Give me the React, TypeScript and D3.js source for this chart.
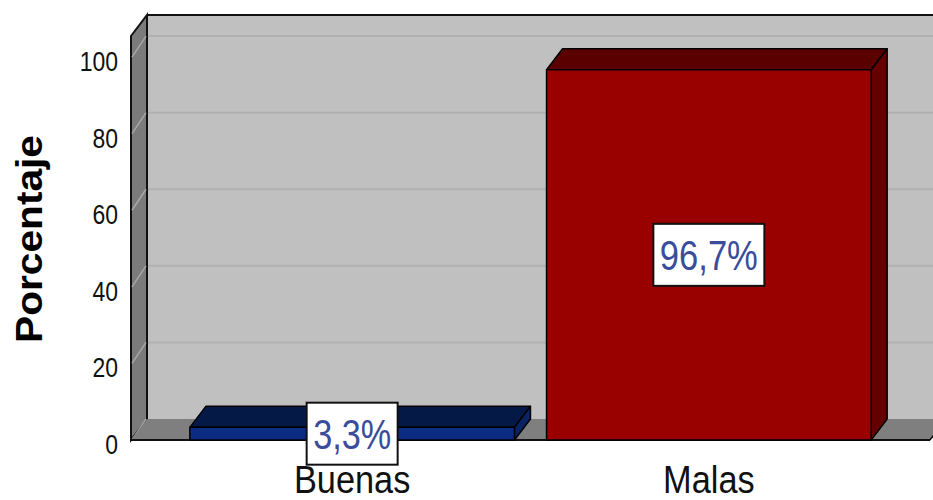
import * as d3 from "d3";

const categories = ["Buenas", "Malas"];
const percentages = [3.3, 96.7];
const valueLabels = ["3,3%", "96,7%"];
const yTicks = [0, 20, 40, 60, 80, 100];

const barColors = [
  { front: "#0c2c84", top: "#051947", side: "#0a2363" },
  { front: "#990000", top: "#5a0000", side: "#640000" },
];

export default function App() {
  const width = 933;
  const height = 500;
  const dx = 16; // depth offset
  const dy = 21;
  const left = 131;
  const right = 930;
  const floorY = 440;

  const y = d3.scaleLinear().domain([0, 105.5]).range([floorY, 36]);
  const x = d3
    .scaleBand<string>()
    .domain(categories)
    .range([left, right])
    .paddingInner(0.09)
    .paddingOuter(0.165);

  const topY = y(105.5);
  const pts = (p: [number, number][]) => p.map((d) => d.join(",")).join(" ");

  return (
    <svg
      width={width}
      height={height}
      style={{ position: "absolute", left: 0, top: 0, display: "block", background: "#fff" }}
      fontFamily="'Liberation Sans', Arial, sans-serif"
    >
      {/* back wall */}
      <rect x={left + dx} y={topY - dy} width={width - left - dx + 5} height={floorY - topY} fill="#c0c0c0" />
      {yTicks.slice(1).map((t) => (
        <line key={"g" + t} x1={left + dx} x2={width} y1={y(t) - dy} y2={y(t) - dy} stroke="#b0b0b0" strokeWidth={2} />
      ))}
      <line x1={left + dx} x2={width} y1={topY - dy} y2={topY - dy} stroke="#111" strokeWidth={2} />

      {/* side wall */}
      <polygon
        points={pts([[left, floorY], [left, topY], [left + dx, topY - dy], [left + dx, floorY - dy]])}
        fill="#7b7b7b"
        stroke="#111"
        strokeWidth={2}
      />
      {yTicks.map((t) => (
        <line key={"s" + t} x1={left + 1} y1={y(t)} x2={left + dx - 1} y2={y(t) - dy} stroke="#a8a8a8" strokeWidth={1.5} />
      ))}

      {/* floor */}
      <polygon
        points={pts([[left, floorY], [right, floorY], [right + dx, floorY - dy], [left + dx, floorY - dy]])}
        fill="#7f7f7f"
      />
      <line x1={left} x2={right} y1={floorY} y2={floorY} stroke="#111" strokeWidth={2} />
      <line x1={right} y1={floorY} x2={right + dx} y2={floorY - dy} stroke="#111" strokeWidth={1.5} />

      {/* bars */}
      {categories.map((c, i) => {
        const x0 = x(c)!;
        const x1 = x0 + x.bandwidth();
        const yt = y(percentages[i]);
        const col = barColors[i];
        return (
          <g key={c} stroke="#000" strokeWidth={1.5} strokeLinejoin="round">
            <polygon points={pts([[x0, yt], [x0 + dx, yt - dy], [x1 + dx, yt - dy], [x1, yt]])} fill={col.top} />
            <polygon points={pts([[x1, yt], [x1 + dx, yt - dy], [x1 + dx, floorY - dy], [x1, floorY]])} fill={col.side} />
            <rect x={x0} y={yt} width={x1 - x0} height={floorY - yt} fill={col.front} />
          </g>
        );
      })}

      {/* value labels */}
      {categories.map((c, i) => {
        const cx = x(c)! + x.bandwidth() / 2;
        const cy = y(percentages[i] / 2);
        const bw = valueLabels[i].length * 20 + 11;
        const bh = 62;
        return (
          <g key={"v" + c}>
            <rect x={cx - bw / 2} y={cy - bh / 2} width={bw} height={bh} fill="#fff" stroke="#111" strokeWidth={2} />
            <text
              x={cx}
              y={cy + 15}
              textAnchor="middle"
              fontSize={43}
              fill="#3a4c9c"
              textLength={bw - 13}
              lengthAdjust="spacingAndGlyphs"
            >
              {valueLabels[i]}
            </text>
          </g>
        );
      })}

      {/* y tick labels */}
      {yTicks.map((t) => (
        <text
          key={"t" + t}
          transform={`translate(118,${y(t) + 14}) scale(0.82,1)`}
          textAnchor="end"
          fontSize={28}
          fill="#111"
        >
          {t}
        </text>
      ))}

      {/* category labels */}
      {categories.map((c) => (
        <text
          key={"c" + c}
          transform={`translate(${x(c)! + x.bandwidth() / 2},493) scale(0.88,1)`}
          textAnchor="middle"
          fontSize={39}
          fill="#111"
        >
          {c}
        </text>
      ))}

      {/* axis title */}
      <text
        transform="translate(42,239) rotate(-90)"
        textAnchor="middle"
        fontSize={37}
        fontWeight="bold"
        fill="#000"
        textLength={208}
        lengthAdjust="spacingAndGlyphs"
      >
        Porcentaje
      </text>
    </svg>
  );
}
